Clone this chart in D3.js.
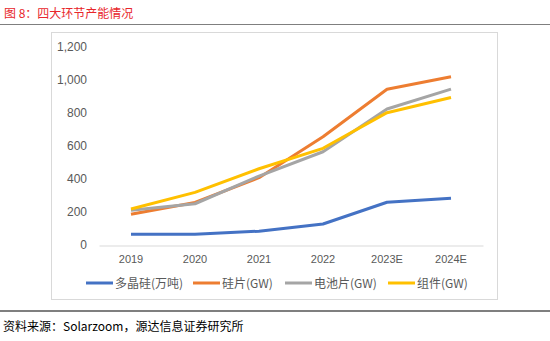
<!DOCTYPE html>
<meta charset="utf-8">
<title>四大环节产能情况</title>
<style type="text/css">
  body { margin: 0; background: #fff; }
  text { font-family: "Noto Sans CJK SC", "Liberation Sans", sans-serif; }
</style>
<body>
<script src="https://d3js.org/d3.v7.min.js"></script>
<div id="chart"></div>
<script>
// categories and series
var years = ["2019", "2020", "2021", "2022", "2023E", "2024E"];
var polysilicon = [65, 65, 84, 127, 259, 283];   // 多晶硅(万吨)
var wafer = [186, 258, 408, 656, 944, 1020];      // 硅片(GW)
var cell = [210, 250, 418, 565, 824, 945];        // 电池片(GW)
var module = [218, 319, 462, 586, 802, 894];      // 组件(GW)
var yTicks = [0, 200, 400, 600, 800, 1000, 1200];

var series = [
  {name: "多晶硅(万吨)", values: polysilicon, color: "#4472c4"},
  {name: "硅片(GW)", values: wafer, color: "#ed7d31"},
  {name: "电池片(GW)", values: cell, color: "#a5a5a5"},
  {name: "组件(GW)", values: module, color: "#ffc000"}
];

var W = 550, H = 341;
var svg = d3.select("#chart").append("svg")
  .attr("width", W).attr("height", H);

// title + rules
svg.append("text").attr("x", 4).attr("y", 18)
  .attr("fill", "#e8262b").style("font-size", "12px")
  .text("图 8：四大环节产能情况");
svg.append("line").attr("x1", 0).attr("x2", W).attr("y1", 24.5).attr("y2", 24.5)
  .attr("stroke", "#7f7f7f").attr("stroke-width", 1.2);

// chart frame
svg.append("rect").attr("x", 51.5).attr("y", 32.5).attr("width", 446).attr("height", 267)
  .attr("fill", "none").attr("stroke", "#d9d9d9");

// scales
var x = d3.scaleBand().domain(years).range([99, 483]);
var y = d3.scaleLinear().domain([0, 1200]).range([245, 47]);

// y axis labels (no line)
var yAxis = svg.append("g").attr("transform", "translate(87,0)")
  .call(d3.axisLeft(y).tickValues(yTicks).tickSize(0).tickPadding(0).tickFormat(d3.format(",")));
yAxis.select(".domain").remove();
yAxis.selectAll("text").attr("fill", "#595959").style("font-size", "12px")
  .style("font-family", "'Liberation Sans', sans-serif");

// x axis
var xAxis = svg.append("g").attr("transform", "translate(0,245.5)")
  .call(d3.axisBottom(x).tickSize(0).tickPadding(10));
xAxis.select(".domain").attr("stroke", "#d9d9d9");
xAxis.selectAll("text").attr("fill", "#595959").style("font-size", "11px")
  .style("font-family", "'Liberation Sans', sans-serif");

// lines
var line = d3.line()
  .x(function(d, i) { return x(years[i]) + x.bandwidth() / 2; })
  .y(function(d) { return y(d); });

svg.selectAll(".series").data(series).enter().append("path")
  .attr("class", "series")
  .attr("d", function(d) { return line(d.values); })
  .attr("fill", "none")
  .attr("stroke", function(d) { return d.color; })
  .attr("stroke-width", 3)
  .attr("stroke-linejoin", "round");

// legend
var legendX = [86, 193, 285, 388];
var lg = svg.selectAll(".legend").data(series).enter().append("g")
  .attr("transform", function(d, i) { return "translate(" + legendX[i] + ",283)"; });
lg.append("line").attr("x1", 0).attr("x2", 27).attr("y1", 0).attr("y2", 0)
  .attr("stroke", function(d) { return d.color; }).attr("stroke-width", 3);
lg.append("text").attr("x", 29).attr("y", 4.5)
  .attr("fill", "#595959").style("font-size", "12px")
  .text(function(d) { return d.name; });

// bottom rule + source
svg.append("line").attr("x1", 0).attr("x2", W).attr("y1", 311).attr("y2", 311)
  .attr("stroke", "#000").attr("stroke-width", 1.2);
svg.append("text").attr("x", 3).attr("y", 331)
  .attr("fill", "#000").style("font-size", "12px")
  .text("资料来源：Solarzoom，源达信息证券研究所");
</script>
</body>
